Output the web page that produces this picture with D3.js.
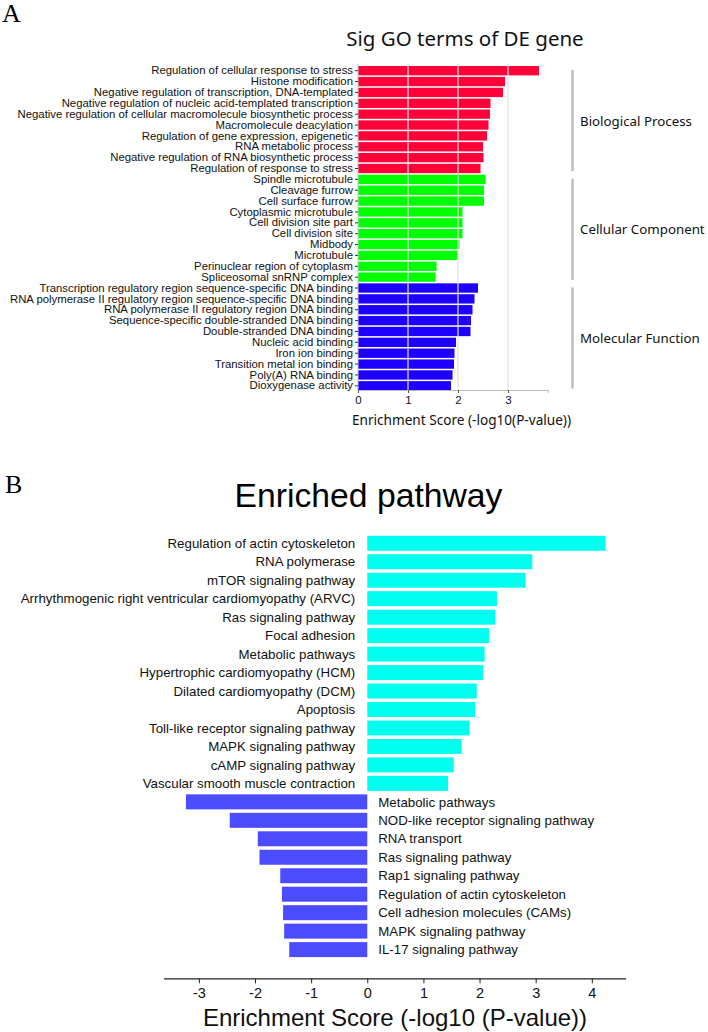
<!DOCTYPE html>
<html><head><meta charset="utf-8">
<script src="https://cdn.jsdelivr.net/npm/d3@7"></script>
<style>body{margin:0;background:#fff}svg{display:block}</style>
</head><body>
<svg id="c" width="708" height="1032"></svg>
<script>
// ---------- Panel A data ----------
const goTerms = [
 "Regulation of cellular response to stress","Histone modification","Negative regulation of transcription, DNA-templated",
 "Negative regulation of nucleic acid-templated transcription","Negative regulation of cellular macromolecule biosynthetic process",
 "Macromolecule deacylation","Regulation of gene expression, epigenetic","RNA metabolic process",
 "Negative regulation of RNA biosynthetic process","Regulation of response to stress",
 "Spindle microtubule","Cleavage furrow","Cell surface furrow","Cytoplasmic microtubule","Cell division site part",
 "Cell division site","Midbody","Microtubule","Perinuclear region of cytoplasm","Spliceosomal snRNP complex",
 "Transcription regulatory region sequence-specific DNA binding","RNA polymerase II regulatory region sequence-specific DNA binding",
 "RNA polymerase II regulatory region DNA binding","Sequence-specific double-stranded DNA binding","Double-stranded DNA binding",
 "Nucleic acid binding","Iron ion binding","Transition metal ion binding","Poly(A) RNA binding","Dioxygenase activity"];
const goScores = [3.62,2.94,2.90,2.65,2.64,2.61,2.58,2.50,2.51,2.45,
 2.55,2.52,2.52,2.09,2.09,2.09,2.03,1.99,1.57,1.55,
 2.40,2.33,2.29,2.26,2.25,1.96,1.93,1.92,1.89,1.86];
const goCategory = ["BP","BP","BP","BP","BP","BP","BP","BP","BP","BP",
 "CC","CC","CC","CC","CC","CC","CC","CC","CC","CC",
 "MF","MF","MF","MF","MF","MF","MF","MF","MF","MF"];
const categoryNames = ["Biological Process","Cellular Component","Molecular Function"];
const categoryKeys = ["BP","CC","MF"];
const goTicks = [0,1,2,3];

// ---------- Panel B data ----------
const upPathways = ["Regulation of actin cytoskeleton","RNA polymerase","mTOR signaling pathway",
 "Arrhythmogenic right ventricular cardiomyopathy (ARVC)","Ras signaling pathway","Focal adhesion","Metabolic pathways",
 "Hypertrophic cardiomyopathy (HCM)","Dilated cardiomyopathy (DCM)","Apoptosis","Toll-like receptor signaling pathway",
 "MAPK signaling pathway","cAMP signaling pathway","Vascular smooth muscle contraction"];
const upScores = [4.24,2.94,2.82,2.31,2.28,2.17,2.09,2.06,1.95,1.92,1.82,1.68,1.54,1.44];
const downPathways = ["Metabolic pathways","NOD-like receptor signaling pathway","RNA transport","Ras signaling pathway",
 "Rap1 signaling pathway","Regulation of actin cytoskeleton","Cell adhesion molecules (CAMs)","MAPK signaling pathway",
 "IL-17 signaling pathway"];
const downScores = [-3.23,-2.45,-1.95,-1.92,-1.55,-1.52,-1.50,-1.48,-1.39];
const pathTicks = [-3,-2,-1,0,1,2,3,4];

const svg = d3.select("#c");
const ARIAL = "'Liberation Sans', Arial, sans-serif";
const SEGOE = "'Noto Sans', 'Open Sans', sans-serif";
const TIMES = "'Liberation Serif', 'Times New Roman', serif";
const fmt = d => String(d); // plain hyphen-minus, integers

// ================= Panel A =================
const catColor = {BP:"#ff0038", CC:"#00ff00", MF:"#1e00ff"};
const xA = d3.scaleLinear().domain([0,3.8]).range([358,548]);
const idsA = goTerms.map((d,i)=>i);
const yA = d3.scaleBand().domain(idsA).range([64.5,392]).padding(0.14);

svg.append("text").attr("x",2).attr("y",22).attr("font-family",TIMES).attr("font-size",26).text("A");
svg.append("text").attr("x",465).attr("y",46).attr("text-anchor","middle")
  .attr("font-family",SEGOE).attr("font-size",20.5).attr("fill","#111").text("Sig GO terms of DE gene");

const gA = svg.append("g");
gA.selectAll("rect.bar").data(idsA).join("rect")
  .attr("x",xA(0)).attr("y",i=>yA(i)).attr("width",i=>xA(goScores[i])-xA(0))
  .attr("height",yA.bandwidth()).attr("fill",i=>catColor[goCategory[i]]);

// gridlines on top
gA.selectAll("line.grid").data(goTicks.slice(1)).join("line")
  .attr("x1",d=>xA(d)).attr("x2",d=>xA(d)).attr("y1",64).attr("y2",390)
  .attr("stroke","#e2e2e2").attr("stroke-width",1.2);

// y axis
const yAxisA = gA.append("g").attr("transform",`translate(${xA(0)},0)`)
  .call(d3.axisLeft(yA).tickSize(3).tickPadding(2).tickFormat(i=>goTerms[i]));
yAxisA.select(".domain").attr("stroke","#c8c8c8").attr("d",`M0,64V390`);
yAxisA.selectAll(".tick line").attr("stroke","#333");
yAxisA.selectAll("text").attr("font-family",ARIAL).attr("font-size",11.35).attr("fill","#111");

// x axis
const xAxisA = gA.append("g").attr("transform","translate(0,390)")
  .call(d3.axisBottom(xA).tickValues(goTicks).tickFormat(fmt).tickSize(3).tickPadding(3));
xAxisA.select(".domain").attr("stroke","#bbb");
xAxisA.selectAll(".tick line").attr("stroke","#555");
xAxisA.selectAll("text").attr("font-family",ARIAL).attr("font-size",11.5).attr("fill","#111");
svg.append("text").attr("x",461.5).attr("y",425).attr("text-anchor","middle")
  .attr("font-family",SEGOE).attr("font-size",13.6).attr("fill","#111").text("Enrichment Score (-log10(P-value))");

// category brackets
categoryKeys.forEach((k,ci)=>{
  const idx = idsA.filter(i=>goCategory[i]===k);
  const top = yA(idx[0]) + 1, bot = yA(idx[idx.length-1]) + yA.bandwidth() + 1;
  gA.append("line").attr("x1",572.5).attr("x2",572.5).attr("y1",top+3).attr("y2",bot-3)
    .attr("stroke","#bdbdbd").attr("stroke-width",2.5);
  gA.append("text").attr("x",580).attr("y",(top+bot)/2+5)
    .attr("font-family",SEGOE).attr("font-size",13.3).attr("fill","#111").text(categoryNames[ci]);
});

// ================= Panel B =================
svg.append("text").attr("x",5).attr("y",493).attr("font-family",TIMES).attr("font-size",26).text("B");
svg.append("text").attr("x",368.5).attr("y",507).attr("text-anchor","middle")
  .attr("font-family",ARIAL).attr("font-size",33.7).attr("fill","#000").text("Enriched pathway");

const pathNames = upPathways.concat(downPathways);
const pathScores = upScores.concat(downScores);
const idsB = pathNames.map((d,i)=>i);
const xB = d3.scaleLinear().domain([-3.63,4.6]).range([163.5,625.5]);
const yB = d3.scaleBand().domain(idsB).range([532.3,960.6]).padding(0.19);
const gB = svg.append("g");

gB.selectAll("rect").data(idsB).join("rect")
  .attr("x",i=>xB(Math.min(0,pathScores[i]))).attr("y",i=>yB(i))
  .attr("width",i=>Math.abs(xB(pathScores[i])-xB(0))).attr("height",yB.bandwidth())
  .attr("fill",i=>pathScores[i]>0?"#00ffee":"#4b4bff");

gB.selectAll("text.lab").data(idsB).join("text")
  .attr("class","lab")
  .attr("x",i=>pathScores[i]>0? xB(0)-12 : xB(0)+11)
  .attr("y",i=>yB(i)+yB.bandwidth()/2).attr("dy","0.35em")
  .attr("text-anchor",i=>pathScores[i]>0?"end":"start")
  .attr("font-family",ARIAL).attr("font-size",13.3).attr("fill","#111")
  .text(i=>pathNames[i]);

const xAxisB = gB.append("g").attr("transform","translate(0,978.3)")
  .call(d3.axisBottom(xB).tickValues(pathTicks).tickFormat(fmt).tickSize(5).tickPadding(4).tickSizeOuter(0));
xAxisB.select(".domain").attr("stroke","#222").attr("stroke-width",1.2);
xAxisB.selectAll(".tick line").attr("stroke","#222");
xAxisB.selectAll("text").attr("font-family",ARIAL).attr("font-size",14.5).attr("fill","#111");
svg.append("text").attr("x",395).attr("y",1026).attr("text-anchor","middle")
  .attr("font-family",ARIAL).attr("font-size",24).attr("fill","#111").text("Enrichment Score (-log10 (P-value))");
</script>
</body></html>
